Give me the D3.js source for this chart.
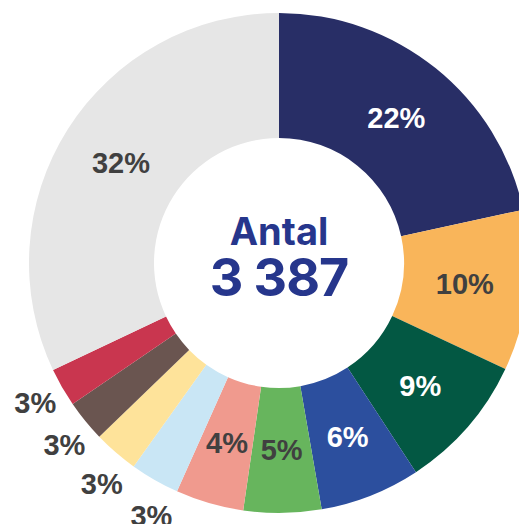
<!DOCTYPE html>
<html>
<head>
<meta charset="utf-8">
<script src="https://cdn.jsdelivr.net/npm/d3@7"></script>
<style>
  html, body { margin: 0; padding: 0; background: #ffffff; }
  svg { display: block; }
</style>
</head>
<body>
<svg id="chart" width="519" height="524"></svg>
<script>
// ---- data ----
const categories = ["A", "B", "C", "D", "E", "F", "G", "H", "I", "J", "Övrigt"];
const counts     = [731, 352, 298, 220, 170, 149, 108, 98, 91, 85, 1085];
const pctLabels  = ["22%", "10%", "9%", "6%", "5%", "4%", "3%", "3%", "3%", "3%", "32%"];
const colors     = ["#282e66", "#f9b55a", "#035843", "#2c4f9e", "#67b55d", "#f09a8e",
                    "#c9e6f5", "#fee39a", "#6a5550", "#c9364f", "#e6e6e6"];
const labelColors = ["#ffffff", "#404040", "#ffffff", "#ffffff", "#404040", "#404040",
                     "#404040", "#404040", "#404040", "#404040", "#404040"];
const outsideLabel = [false, false, false, false, false, false, true, true, true, true, false];
const centerTitle = "Antal";
const centerValue = "3 387";

// ---- layout ----
const cx = 279, cy = 263;
const rOuter = 250, rInner = 125;

const svg = d3.select("#chart");
const g = svg.append("g").attr("transform", `translate(${cx},${cy})`);

const data = categories.map((c, i) => ({ cat: c, value: counts[i], i }));

const pie = d3.pie().sort(null).value(d => d.value).startAngle(0).endAngle(2 * Math.PI);
const arcs = pie(data);

const arc = d3.arc().innerRadius(rInner).outerRadius(rOuter);
const labelArc = d3.arc().innerRadius(187).outerRadius(187);

g.selectAll("path.slice")
  .data(arcs)
  .join("path")
  .attr("class", "slice")
  .attr("d", arc)
  .attr("fill", d => colors[d.data.i]);

// inside labels
g.selectAll("text.in")
  .data(arcs.filter(d => !outsideLabel[d.data.i]))
  .join("text")
  .attr("class", "in")
  .attr("transform", d => `translate(${labelArc.centroid(d)})`)
  .attr("text-anchor", "middle")
  .attr("dy", "0.36em")
  .attr("font-family", "'Liberation Sans', Arial, sans-serif")
  .attr("font-weight", "bold")
  .attr("font-size", 29)
  .attr("fill", d => labelColors[d.data.i])
  .text(d => pctLabels[d.data.i]);

// outside labels (spread slightly apart, the further from the first one the more)
const outside = arcs.filter(d => outsideLabel[d.data.i]).sort((a, b) => b.startAngle - a.startAngle);
g.selectAll("text.out")
  .data(outside)
  .join("text")
  .attr("class", "out")
  .attr("transform", (d, k) => {
    const a = (d.startAngle + d.endAngle) / 2 - k * Math.PI / 180;
    const r = k < 2 ? 281 : 283;
    return `translate(${r * Math.sin(a)},${-r * Math.cos(a)})`;
  })
  .attr("text-anchor", "middle")
  .attr("dy", "0.36em")
  .attr("font-family", "'Liberation Sans', Arial, sans-serif")
  .attr("font-weight", "bold")
  .attr("font-size", 29)
  .attr("fill", d => labelColors[d.data.i])
  .text(d => pctLabels[d.data.i]);

// center text
g.append("text")
  .attr("x", 0).attr("y", -18)
  .attr("text-anchor", "middle")
  .attr("font-family", "Inter, 'Noto Sans', sans-serif")
  .attr("font-weight", "bold")
  .attr("font-size", 38)
  .attr("fill", "#26368c")
  .text(centerTitle);

g.append("text")
  .attr("x", 0).attr("y", 33)
  .attr("text-anchor", "middle")
  .attr("font-family", "Inter, 'Noto Sans', sans-serif")
  .attr("font-weight", "bold")
  .attr("font-size", 52)
  .attr("letter-spacing", "-1")
  .attr("fill", "#26368c")
  .text(centerValue);
</script>
</body>
</html>
